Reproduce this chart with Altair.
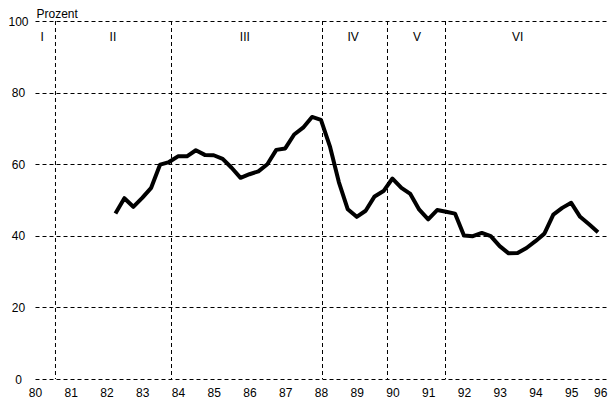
import altair as alt
import pandas as pd

# quarterly observations (year fraction) and values in Prozent
quarters = [82.25, 82.5, 82.75, 83.0, 83.25, 83.5, 83.75, 84.0, 84.25, 84.5,
            84.75, 85.0, 85.25, 85.5, 85.75, 86.0, 86.25, 86.5, 86.75, 87.0,
            87.25, 87.5, 87.75, 88.0, 88.25, 88.5, 88.75, 89.0, 89.25, 89.5,
            89.75, 90.0, 90.25, 90.5, 90.75, 91.0, 91.25, 91.5, 91.75, 92.0,
            92.25, 92.5, 92.75, 93.0, 93.25, 93.5, 93.75, 94.0, 94.25, 94.5,
            94.75, 95.0, 95.25, 95.5, 95.75]
values = [46.2, 50.5, 48.1, 50.6, 53.4, 59.9, 60.6, 62.2, 62.2, 63.9,
          62.6, 62.5, 61.5, 59.0, 56.2, 57.2, 58.0, 60.0, 64.0, 64.4,
          68.3, 70.2, 73.2, 72.4, 65.0, 55.0, 47.4, 45.3, 47.0, 51.0,
          52.5, 56.0, 53.4, 51.7, 47.3, 44.6, 47.2, 46.7, 46.2, 40.1,
          39.9, 40.8, 39.9, 37.1, 35.1, 35.2, 36.6, 38.5, 40.6, 45.9,
          47.8, 49.2, 45.3, 43.2, 41.0]

# phase boundaries and phase labels
boundaries = [80.573, 83.819, 88.043, 89.861, 91.484]
phase_names = ["I", "II", "III", "IV", "V", "VI"]
phase_x = [80.2, 82.18, 85.87, 88.9, 90.69, 93.5]
phase_y = [95.4] * 6

year_ticks = list(range(80, 97))
y_ticks = [0, 20, 40, 60, 80, 100]

FONT = "Liberation Sans"
DASH = [4, 3]

series = pd.DataFrame({"t": quarters, "v": values})
bounds = pd.DataFrame({"b": boundaries})
phases = pd.DataFrame({"name": phase_names, "px": phase_x, "py": phase_y})

xscale = alt.Scale(domain=[80, 96.03], nice=False, zero=False)
yscale = alt.Scale(domain=[0, 100], nice=False)

xaxis = alt.Axis(values=year_ticks, format="d", title=None,
                 grid=False, ticks=False, domain=False,
                 labelPadding=13, labelBaseline="middle",
                 labelAlign=alt.ExprRef(
                     expr="datum.value >= 96 ? 'right' : 'center'"),
                 labelFont=FONT, labelFontSize=12,
                 labelColor="black", labelFlush=False,
                 labelOverlap=False, labelBound=False)
yaxis = alt.Axis(values=y_ticks, title="Prozent", titleAngle=0,
                 titleAlign="left", titleBaseline="alphabetic",
                 titleX=1, titleY=-4, titleFont=FONT,
                 titleFontSize=12, titleFontWeight="normal",
                 titleColor="black",
                 grid=True, gridColor="black", gridDash=DASH,
                 gridWidth=1, gridOpacity=1,
                 ticks=False, domain=False, labelPadding=17,
                 labelAlign="center", labelBaseline="middle",
                 labelFont=FONT, labelFontSize=12,
                 labelColor="black", labelOverlap=False)

line = alt.Chart(series).mark_line(
    color="black", strokeWidth=4, strokeJoin="round"
).encode(
    x=alt.X("t:Q", scale=xscale, axis=xaxis),
    y=alt.Y("v:Q", scale=yscale, axis=yaxis),
)

rules = alt.Chart(bounds).mark_rule(
    color="black", strokeWidth=1, strokeDash=DASH
).encode(x=alt.X("b:Q", scale=xscale, axis=xaxis))

labels = alt.Chart(phases).mark_text(
    font=FONT, fontSize=12, color="black", align="center", baseline="middle"
).encode(
    x=alt.X("px:Q", scale=xscale, axis=xaxis),
    y=alt.Y("py:Q", scale=yscale, axis=yaxis),
    text="name:N",
)

chart = alt.layer(line, rules, labels).properties(
    width=573, height=358,
    autosize=alt.AutoSizeParams(type="none"),
    padding={"left": 27, "top": 13, "right": 0, "bottom": 23},
).configure(background="white").configure_view(
    stroke=None
).configure_axis(labelOverlap=False)

chart.save("out.html", embed_options={"renderer": "svg", "actions": False})
